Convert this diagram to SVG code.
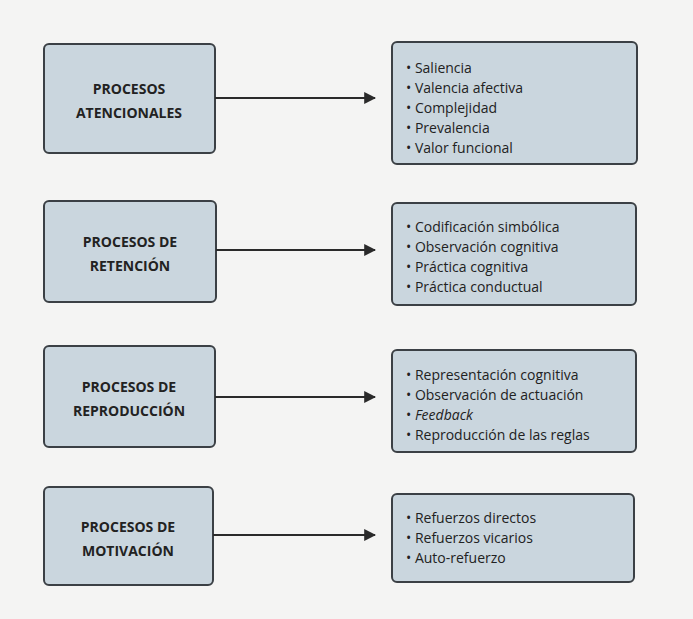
<svg xmlns="http://www.w3.org/2000/svg" width="693" height="619" viewBox="0 0 693 619">
<defs>
<style>
.b{fill:#cad6de;stroke:#3b4045;stroke-width:2}
.t{font-family:"Open Sans","Liberation Sans",sans-serif;font-size:14px;fill:#222;font-weight:bold;text-anchor:middle}
.i{font-family:"Open Sans","Liberation Sans",sans-serif;font-size:14px;fill:#222}
.c{stroke:#2a2a2a;stroke-width:2;fill:none;marker-end:url(#a)}
</style>
<marker id="a" viewBox="0 0 10 10" refX="9" refY="5" markerWidth="6" markerHeight="6" orient="auto" markerUnits="strokeWidth"><path d="M0,0L10,5L0,10z" fill="#2a2a2a"/></marker>
</defs>
<rect width="693" height="619" fill="#f4f4f3"/>
<g id="n1"><rect class="b" x="44" y="44" width="171" height="109" rx="5"/><text class="t" x="129" y="94">PROCESOS</text><text class="t" x="129" y="118">ATENCIONALES</text></g>
<g id="n2"><rect class="b" x="44" y="201" width="172" height="101" rx="5"/><text class="t" x="130" y="247">PROCESOS DE</text><text class="t" x="130" y="271">RETENCIÓN</text></g>
<g id="n3"><rect class="b" x="44" y="346" width="171" height="101" rx="5"/><text class="t" x="129" y="392">PROCESOS DE</text><text class="t" x="129" y="416">REPRODUCCIÓN</text></g>
<g id="n4"><rect class="b" x="44" y="487" width="169" height="98" rx="5"/><text class="t" x="128" y="532">PROCESOS DE</text><text class="t" x="128" y="556">MOTIVACIÓN</text></g>
<g id="r1"><rect class="b" x="392" y="42" width="245" height="122" rx="5"/>
<text class="i" x="406" y="73">•  Saliencia</text><text class="i" x="406" y="93">•  Valencia afectiva</text><text class="i" x="406" y="113">•  Complejidad</text><text class="i" x="406" y="133">•  Prevalencia</text><text class="i" x="406" y="153">•  Valor funcional</text></g>
<g id="r2"><rect class="b" x="392" y="203" width="244" height="102" rx="5"/>
<text class="i" x="406" y="232">•  Codificación simbólica</text><text class="i" x="406" y="252">•  Observación cognitiva</text><text class="i" x="406" y="272">•  Práctica cognitiva</text><text class="i" x="406" y="292">•  Práctica conductual</text></g>
<g id="r3"><rect class="b" x="392" y="350" width="244" height="102" rx="5"/>
<text class="i" x="406" y="380">•  Representación cognitiva</text><text class="i" x="406" y="400">•  Observación de actuación</text><text class="i" x="406" y="420">•  <tspan font-style="italic">Feedback</tspan></text><text class="i" x="406" y="440">•  Reproducción de las reglas</text></g>
<g id="r4"><rect class="b" x="392" y="494" width="242" height="88" rx="5"/>
<text class="i" x="406" y="523">•  Refuerzos directos</text><text class="i" x="406" y="543">•  Refuerzos vicarios</text><text class="i" x="406" y="563">•  Auto-refuerzo</text></g>
<g id="connectors">
<line class="c" x1="215" y1="98" x2="375" y2="98"/>
<line class="c" x1="216" y1="250" x2="375" y2="250"/>
<line class="c" x1="215" y1="397" x2="375" y2="397"/>
<line class="c" x1="213" y1="535" x2="375" y2="535"/>
</g>
</svg>
